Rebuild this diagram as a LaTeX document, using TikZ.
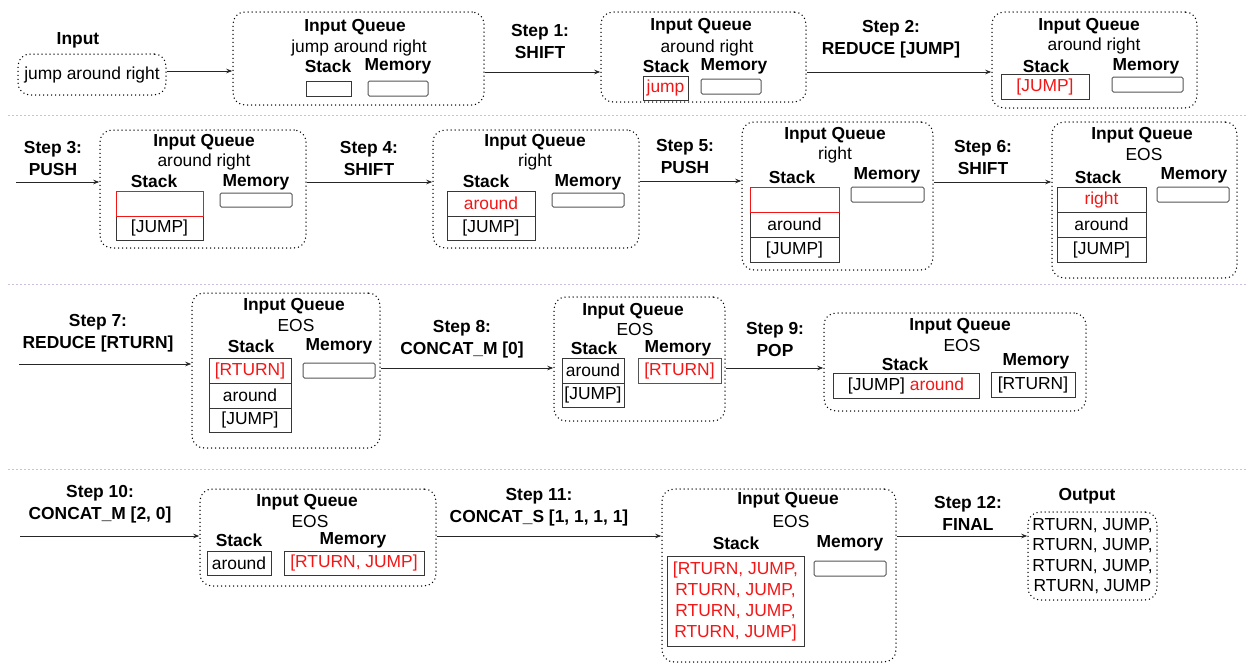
\documentclass[tikz,border=0pt]{standalone}
\usepackage{fontspec}
\setmainfont{Liberation Sans}
\usetikzlibrary{arrows.meta}
\definecolor{sepc}{RGB}{205,190,222}
\definecolor{redt}{RGB}{242,22,22}
\definecolor{cellc}{RGB}{55,55,55}
\definecolor{memc}{RGB}{85,85,85}
\newcommand\rnode[7]{\node[#6, minimum width={(#4-#2)*1pt}, minimum height={(#5-#3)*1pt}] (#1) at ({(#2+#4)/2},{(#3+#5)/2}) {#7};}
\newcommand\tnode[5]{\node[#4] (#1) at (#2,#3) {#5};}
\begin{document}
\begin{tikzpicture}[x=1pt,y=-1pt, font=\fontsize{17.4}{21}\selectfont,
 dbox/.style={draw, line width=1.5pt, line cap=round, dash pattern=on 0pt off 4pt, rounded corners=12pt, inner sep=0pt},
 cell/.style={draw=cellc, line width=0.9pt, inner sep=0pt},
 redcell/.style={draw=redt, line width=1pt, inner sep=0pt},
 mem/.style={draw=memc, line width=1pt, rounded corners=1.5pt, inner sep=0pt},
 bt/.style={font=\fontsize{17.4}{21}\selectfont\bfseries, inner sep=0pt},
 nt/.style={inner sep=0pt},
 rt/.style={text=redt},
 lbl/.style={font=\fontsize{17.4}{22}\selectfont\bfseries, align=center, inner sep=0pt},
 arr/.style={draw=black!85, line width=0.9pt, -{Stealth[length=6pt,width=4.5pt]}},
 sepl/.style={draw=sepc, line width=0.8pt, dash pattern=on 2pt off 2pt}]
\useasboundingbox (0,0) rectangle (1248,664);

% separators
\draw[sepl] (8,115) -- (1248,115);
\draw[sepl] (8,284) -- (1248,284);
\draw[sepl] (8,469) -- (1248,469);

% arrow rows
\coordinate (r1) at (0,72);
\coordinate (r2) at (0,182);
\coordinate (r3a) at (0,364);
\coordinate (r3b) at (0,368);
\coordinate (r4) at (0,536);
\coordinate (st2) at (16,182);
\coordinate (st3) at (19,364);
\coordinate (st4) at (20,536);

% ---------- Row 1
\tnode{inlbl}{78}{40}{bt}{Input}
\rnode{in}{18}{54}{166}{95}{dbox}{jump around right}

\rnode{b1}{233}{12}{484}{105}{dbox}{}
\tnode{b1q}{355}{27}{bt}{Input Queue}
\tnode{b1i}{359}{48}{nt}{jump around right}
\tnode{b1st}{328}{66}{bt}{Stack}
\tnode{b1me}{398}{66}{bt}{Memory}
\rnode{b1s}{306}{81}{351}{96}{cell}{}
\rnode{b1m}{368}{81}{428}{96}{mem}{}

\tnode{s1}{540}{42}{lbl}{Step 1:\\SHIFT}

\rnode{b2}{601}{12}{806}{102}{dbox}{}
\tnode{b2q}{701}{26}{bt}{Input Queue}
\tnode{b2i}{707}{48}{nt}{around right}
\tnode{b2st}{666}{66}{bt}{Stack}
\tnode{b2me}{734}{66}{bt}{Memory}
\rnode{b2s}{643}{76}{688}{100}{cell,rt}{jump}
\rnode{b2m}{701}{79}{761}{94}{mem}{}

\tnode{s2}{891}{39}{lbl}{Step 2:\\REDUCE [JUMP]}

\rnode{b3}{992}{12}{1197}{108}{dbox}{}
\tnode{b3q}{1089}{26}{bt}{Input Queue}
\tnode{b3i}{1094}{46}{nt}{around right}
\tnode{b3st}{1046}{66}{bt}{Stack}
\tnode{b3me}{1146}{66}{bt}{Memory}
\rnode{b3s}{1001}{74}{1089}{99}{cell,rt}{[JUMP]}
\rnode{b3m}{1112}{77}{1183}{92}{mem}{}

\draw[arr] (in.east |- 0,71) -- (b1.west |- 0,71);
\draw[arr] (b1.east |- r1) -- (b2.west |- r1);
\draw[arr] (b2.east |- r1) -- (b3.west |- r1);

% ---------- Row 2
\tnode{s3}{53}{159}{lbl}{Step 3:\\PUSH}

\rnode{b4}{100}{130}{306}{248}{dbox}{}
\tnode{b4q}{204}{142}{bt}{Input Queue}
\tnode{b4i}{204}{162}{nt}{around right}
\tnode{b4st}{154}{181}{bt}{Stack}
\tnode{b4me}{256}{182}{bt}{Memory}
\rnode{b4s2}{116}{216}{203}{240}{cell}{[JUMP]}
\rnode{b4s1}{116}{191}{203}{216}{redcell}{}
\rnode{b4m}{220}{193}{292}{207}{mem}{}

\tnode{s4}{369}{159}{lbl}{Step 4:\\SHIFT}

\rnode{b5}{433}{130}{639}{248}{dbox}{}
\tnode{b5q}{535}{142}{bt}{Input Queue}
\tnode{b5i}{535}{162}{nt}{right}
\tnode{b5st}{486}{181}{bt}{Stack}
\tnode{b5me}{588}{182}{bt}{Memory}
\rnode{b5s1}{447}{191}{535}{216}{cell,rt}{around}
\rnode{b5s2}{447}{216}{535}{240}{cell}{[JUMP]}
\rnode{b5m}{552}{193}{624}{207}{mem}{}

\tnode{s5}{685}{157}{lbl}{Step 5:\\PUSH}

\rnode{b6}{742}{122}{933}{270}{dbox}{}
\tnode{b6q}{835}{135}{bt}{Input Queue}
\tnode{b6i}{835}{155}{nt}{right}
\tnode{b6st}{792}{177}{bt}{Stack}
\tnode{b6me}{887}{175}{bt}{Memory}
\rnode{b6s2}{750}{212}{839}{237}{cell}{around}
\rnode{b6s3}{750}{237}{839}{262}{cell}{[JUMP]}
\rnode{b6s1}{750}{187}{839}{212}{redcell}{}
\rnode{b6m}{851}{187}{924}{202}{mem}{}

\tnode{s6}{983}{158}{lbl}{Step 6:\\SHIFT}

\rnode{b7}{1052}{122}{1237}{278}{dbox}{}
\tnode{b7q}{1142}{135}{bt}{Input Queue}
\tnode{b7i}{1144}{155}{nt}{EOS}
\tnode{b7st}{1098}{177}{bt}{Stack}
\tnode{b7me}{1194}{175}{bt}{Memory}
\rnode{b7s1}{1057}{187}{1146}{212}{cell,rt}{right}
\rnode{b7s2}{1057}{212}{1146}{237}{cell}{around}
\rnode{b7s3}{1057}{237}{1146}{262}{cell}{[JUMP]}
\rnode{b7m}{1157}{187}{1229}{202}{mem}{}

\draw[arr] (st2) -- (b4.west |- r2);
\draw[arr] (b4.east |- r2) -- (b5.west |- r2);
\draw[arr] (b5.east |- 0,181) -- (b6.west |- 0,181);
\draw[arr] (b6.east |- r2) -- (b7.west |- r2);

% ---------- Row 3
\tnode{s7}{98}{333}{lbl}{Step 7:\\REDUCE [RTURN]}

\rnode{b8}{192}{293}{380}{448}{dbox}{}
\tnode{b8q}{294}{306}{bt}{Input Queue}
\tnode{b8i}{296}{326}{nt}{EOS}
\tnode{b8st}{251}{346}{bt}{Stack}
\tnode{b8me}{339}{346}{bt}{Memory}
\rnode{b8s1}{209}{358}{291}{383}{cell,rt}{[RTURN]}
\rnode{b8s2}{209}{383}{291}{408}{cell}{around}
\rnode{b8s3}{209}{408}{291}{432}{cell}{[JUMP]}
\rnode{b8m}{303}{363}{375}{378}{mem}{}

\tnode{s8}{462}{339}{lbl}{Step 8:\\CONCAT\_M [0]}

\rnode{b9}{554}{297}{725}{421}{dbox}{}
\tnode{b9q}{633}{311}{bt}{Input Queue}
\tnode{b9i}{635}{330}{nt}{EOS}
\tnode{b9st}{594}{348}{bt}{Stack}
\tnode{b9me}{678}{348}{bt}{Memory}
\rnode{b9s1}{562}{358}{624}{383}{cell}{around}
\rnode{b9s2}{562}{383}{624}{407}{cell}{[JUMP]}
\rnode{b9m}{638}{358}{721}{383}{mem,rounded corners=0pt,rt}{[RTURN]}

\tnode{s9}{775}{340}{lbl}{Step 9:\\POP}

\rnode{b10}{824}{313}{1086}{411}{dbox}{}
\tnode{b10q}{960}{326}{bt}{Input Queue}
\tnode{b10i}{962}{346}{nt}{EOS}
\tnode{b10st}{905}{364}{bt}{Stack}
\tnode{b10me}{1036}{361}{bt}{Memory}
\rnode{b10s}{833}{373}{979}{398}{cell}{[JUMP] \textcolor{redt}{around}}
\rnode{b10m}{991}{372}{1075}{397}{cell}{[RTURN]}

\draw[arr] (st3) -- (b8.west |- r3a);
\draw[arr] (b8.east |- r3b) -- (b9.west |- r3b);
\draw[arr] (b9.east |- r3b) -- (b10.west |- r3b);

% ---------- Row 4
\tnode{s10}{100}{504}{lbl}{Step 10:\\CONCAT\_M [2, 0]}

\rnode{b11}{200}{489}{436}{586}{dbox}{}
\tnode{b11q}{307}{502}{bt}{Input Queue}
\tnode{b11i}{310}{522}{nt}{EOS}
\tnode{b11st}{239}{540}{bt}{Stack}
\tnode{b11me}{353}{540}{bt}{Memory}
\rnode{b11s}{207}{551}{271}{575}{cell}{around}
\rnode{b11m}{284}{551}{424}{575}{cell,rt}{[RTURN, JUMP]}

\tnode{s11}{539}{507}{lbl}{Step 11:\\CONCAT\_S [1, 1, 1, 1]}

\rnode{b12}{662}{489}{896}{662}{dbox}{}
\tnode{b12q}{788}{500}{bt}{Input Queue}
\tnode{b12i}{791}{522}{nt}{EOS}
\tnode{b12st}{736}{543}{bt}{Stack}
\tnode{b12me}{850}{543}{bt}{Memory}
\rnode{b12s}{667}{556}{804}{646}{cell,rt,align=center}{[RTURN, JUMP,\\RTURN, JUMP,\\RTURN, JUMP,\\RTURN, JUMP]}
\rnode{b12m}{814}{561}{886}{576}{mem}{}

\tnode{s12}{968}{513}{lbl}{Step 12:\\FINAL}

\tnode{outlbl}{1087}{496}{bt}{Output}
\rnode{out}{1028}{512}{1157}{600}{dbox,align=center,font=\fontsize{17.4}{20.5}\selectfont}{RTURN, JUMP,\\RTURN, JUMP,\\RTURN, JUMP,\\RTURN, JUMP}

\draw[arr] (st4) -- (b11.west |- r4);
\draw[arr] (b11.east |- r4) -- (b12.west |- r4);
\draw[arr] (b12.east |- r4) -- (out.west |- r4);
\end{tikzpicture}
\end{document}
